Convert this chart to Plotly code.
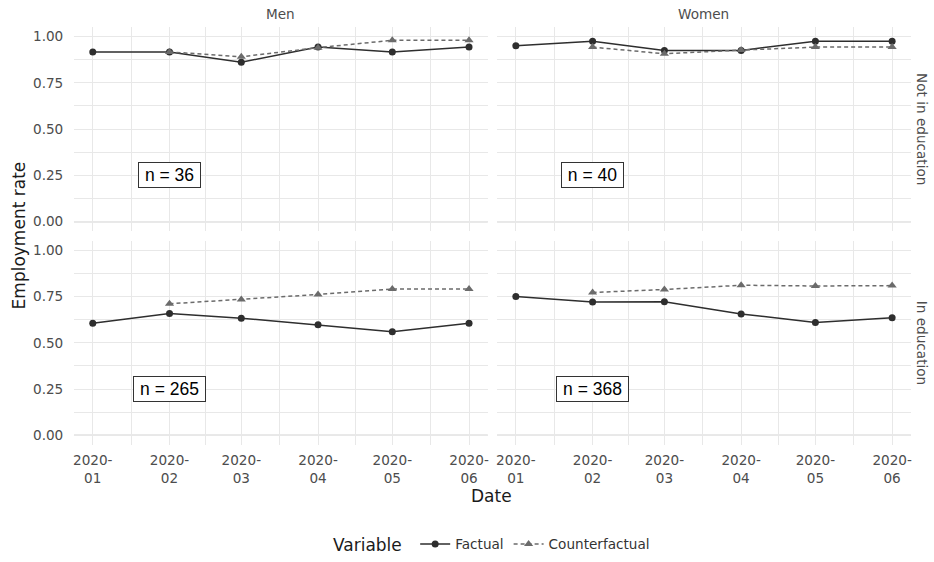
import plotly.graph_objects as go

dates = ["2020-01-01", "2020-02-01", "2020-03-01", "2020-04-01", "2020-05-01", "2020-06-01"]
cf_dates = dates[1:]
tick_labels = ["2020-<br>01", "2020-<br>02", "2020-<br>03", "2020-<br>04", "2020-<br>05", "2020-<br>06"]
minor_dates = ["2020-01-16 12:00", "2020-02-15 12:00", "2020-03-16 12:00", "2020-04-16", "2020-05-16 12:00"]

men_noedu_fact = [0.917, 0.917, 0.861, 0.944, 0.917, 0.944]
men_noedu_cf = [0.917, 0.891, 0.940, 0.980, 0.980]
women_noedu_fact = [0.950, 0.975, 0.925, 0.925, 0.975, 0.975]
women_noedu_cf = [0.943, 0.907, 0.927, 0.943, 0.943]
men_edu_fact = [0.606, 0.658, 0.633, 0.597, 0.560, 0.606]
men_edu_cf = [0.711, 0.734, 0.761, 0.790, 0.791]
women_edu_fact = [0.750, 0.720, 0.722, 0.656, 0.610, 0.636]
women_edu_cf = [0.772, 0.788, 0.811, 0.807, 0.809]

n_labels = ["n = 36", "n = 40", "n = 265", "n = 368"]
col_labels = ["Men", "Women"]
row_labels = ["Not in education", "In education"]
y_ticks = [0, 0.25, 0.5, 0.75, 1.0]
y_ticktext = ["0.00", "0.25", "0.50", "0.75", "1.00"]

W, H = 934, 562
FONT = "DejaVu Sans"
FACT_COL = "#2e2e2e"
CF_COL = "#6b6b6b"
GRID = "#e8e8e8"
TICKFONT = dict(family=FONT, size=13.6, color="#4d4d4d")

panels = [
    ("x", "y", men_noedu_fact, men_noedu_cf, True),
    ("x2", "y2", women_noedu_fact, women_noedu_cf, False),
    ("x3", "y3", men_edu_fact, men_edu_cf, False),
    ("x4", "y4", women_edu_fact, women_edu_cf, False),
]

fig = go.Figure()
for xa, ya, fact, cf, show in panels:
    fig.add_trace(go.Scatter(
        x=dates, y=fact, xaxis=xa, yaxis=ya, mode="lines+markers", name="Factual",
        line=dict(color=FACT_COL, width=1.5), marker=dict(color=FACT_COL, size=7, symbol="circle"),
        showlegend=show, legendgroup="f"))
for xa, ya, fact, cf, show in panels:
    fig.add_trace(go.Scatter(
        x=cf_dates, y=cf, xaxis=xa, yaxis=ya, mode="lines+markers", name="Counterfactual",
        line=dict(color=CF_COL, width=1.5, dash="4px,3px"), marker=dict(color=CF_COL, size=8, symbol="triangle-up"),
        showlegend=show, legendgroup="c"))

xdoms = [(73.15 / W, 487.85 / W), (497.15 / W, 911.85 / W)]
ydoms = [(1 - 233.4 / H, 1 - 27.6 / H), (1 - 449.4 / H, 1 - 243.6 / H)]
xrange = ["2019-12-24 10:00", "2020-06-08 14:00"]

layout = dict(
    width=W, height=H, margin=dict(l=0, r=0, t=0, b=0),
    paper_bgcolor="white", plot_bgcolor="white",
    font=dict(family=FONT, color="#1a1a1a"),
    legend=dict(orientation="h", x=493 / W, xanchor="center", y=1 - 551 / H, yanchor="middle",
                title=dict(text="Variable ", font=dict(size=17, color="#1a1a1a")),
                font=dict(size=13.6, color="#333333"), itemwidth=30, tracegroupgap=0),
)
for i in range(4):
    r, c = divmod(i, 2)
    sx = "" if i == 0 else str(i + 1)
    layout["xaxis" + sx] = dict(
        domain=xdoms[c], anchor="y" + sx, range=xrange, type="date",
        tickvals=dates, ticktext=tick_labels, showticklabels=(r == 1),
        tickfont=TICKFONT, showgrid=True, gridcolor=GRID, gridwidth=1.2,
        zeroline=False, showline=False, ticks="outside", ticklen=3, tickcolor="rgba(0,0,0,0)",
        minor=dict(tickvals=minor_dates, showgrid=True, gridcolor=GRID, gridwidth=0.6),
    )
    layout["yaxis" + sx] = dict(
        domain=ydoms[r], anchor="x" + sx, range=[-0.05, 1.05],
        tickvals=y_ticks, ticktext=y_ticktext, showticklabels=(c == 0),
        tickfont=TICKFONT, showgrid=True, gridcolor=GRID, gridwidth=1.2,
        zeroline=False, showline=False, ticks="outside", ticklen=7, tickcolor="rgba(0,0,0,0)",
        minor=dict(dtick=0.125, tick0=0.125, showgrid=True, gridcolor=GRID, gridwidth=0.6),
    )

fig.update_layout(**layout)

shapes = []
for i in range(4):
    r, c = divmod(i, 2)
    sx = "" if i == 0 else str(i + 1)
    levels = [0, 1] if r == 0 else [0]
    for lv in levels:
        shapes.append(dict(type="line", xref="x" + sx + " domain", yref="y" + sx,
                           x0=0, x1=1, y0=lv, y1=lv, line=dict(color="#a6a6a6", width=1.1), layer="below"))
fig.update_layout(shapes=shapes)

annotations = []
for i, lab in enumerate(n_labels):
    sx = "" if i == 0 else str(i + 1)
    annotations.append(dict(x="2020-02-01", y=0.25, xref="x" + sx, yref="y" + sx, text=lab,
                            showarrow=False, font=dict(family="Liberation Sans", size=17.5, color="black"),
                            width=(57 if len(lab) < 7 else 67), height=20,
                            bgcolor="white", bordercolor="#333333", borderwidth=1, borderpad=2))
for c, lab in enumerate(col_labels):
    annotations.append(dict(x=(xdoms[c][0] + xdoms[c][1]) / 2, y=1 - 14 / H, xref="paper", yref="paper",
                            text=lab, showarrow=False, font=dict(size=13.6, color="#4d4d4d"),
                            xanchor="center", yanchor="middle"))
for r, lab in enumerate(row_labels):
    annotations.append(dict(x=923 / W, y=(ydoms[r][0] + ydoms[r][1]) / 2, xref="paper", yref="paper",
                            text=lab, showarrow=False, textangle=90, font=dict(size=13.6, color="#4d4d4d"),
                            xanchor="center", yanchor="middle"))
annotations.append(dict(x=18 / W, y=1 - 238 / H, xref="paper", yref="paper", text="Employment rate",
                        showarrow=False, textangle=-90, font=dict(size=17, color="#1a1a1a"),
                        xanchor="center", yanchor="middle"))
annotations.append(dict(x=492 / W, y=1 - 501 / H, xref="paper", yref="paper", text="Date",
                        showarrow=False, font=dict(size=17, color="#1a1a1a"),
                        xanchor="center", yanchor="middle"))
fig.update_layout(annotations=annotations)

post = ("var s=document.documentElement.style;s.margin='0';s.padding='0';s.overflow='hidden';s.height='562px';"
        "var b=document.body.style;b.margin='0';b.padding='0';b.overflow='hidden';b.height='562px';")
fig.write_html("out.html", config={"displayModeBar": False}, post_script=post)
